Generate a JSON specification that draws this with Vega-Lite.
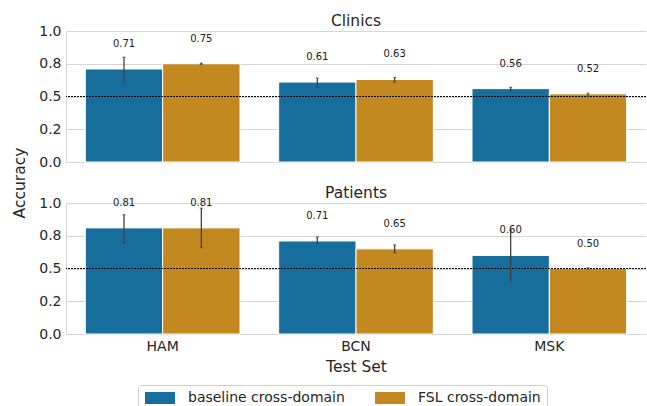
{
  "$schema": "https://vega.github.io/schema/vega-lite/v6.json",
  "autosize": {"type": "pad"},
  "padding": {"left": 12, "top": 13, "right": 0, "bottom": 0},
  "bounds": "flush",
  "spacing": 41,
  "datasets": {
    "clinics": [
      {"test": "HAM", "model": "baseline cross-domain", "acc": 0.71, "lo": 0.61, "hi": 0.80},
      {"test": "HAM", "model": "FSL cross-domain", "acc": 0.75, "lo": 0.745, "hi": 0.755},
      {"test": "BCN", "model": "baseline cross-domain", "acc": 0.61, "lo": 0.57, "hi": 0.64},
      {"test": "BCN", "model": "FSL cross-domain", "acc": 0.63, "lo": 0.61, "hi": 0.645},
      {"test": "MSK", "model": "baseline cross-domain", "acc": 0.56, "lo": 0.545, "hi": 0.57},
      {"test": "MSK", "model": "FSL cross-domain", "acc": 0.52, "lo": 0.50, "hi": 0.525}
    ],
    "patients": [
      {"test": "HAM", "model": "baseline cross-domain", "acc": 0.81, "lo": 0.70, "hi": 0.91},
      {"test": "HAM", "model": "FSL cross-domain", "acc": 0.81, "lo": 0.66, "hi": 0.96},
      {"test": "BCN", "model": "baseline cross-domain", "acc": 0.71, "lo": 0.69, "hi": 0.74},
      {"test": "BCN", "model": "FSL cross-domain", "acc": 0.65, "lo": 0.62, "hi": 0.68},
      {"test": "MSK", "model": "baseline cross-domain", "acc": 0.60, "lo": 0.40, "hi": 0.79},
      {"test": "MSK", "model": "FSL cross-domain", "acc": 0.50, "lo": 0.495, "hi": 0.505}
    ]
  },
  "config": {
    "font": "DejaVu Sans",
    "view": {"stroke": null},
    "axis": {
      "labelFont": "DejaVu Sans", "titleFont": "DejaVu Sans",
      "labelColor": "#262626", "titleColor": "#262626",
      "labelFontSize": 14, "titleFontSize": 15.5, "titleFontWeight": "normal",
      "gridColor": "#d6d6d6", "domainColor": "#d6d6d6", "ticks": false
    },
    "title": {"font": "DejaVu Sans", "fontSize": 15.5, "fontWeight": "normal", "color": "#262626", "offset": -5},
    "legend": {
      "orient": "none", "legendX": 72, "legendY": 354, "direction": "horizontal",
      "title": null, "labelFont": "DejaVu Sans", "labelFontSize": 14, "labelColor": "#262626",
      "symbolType": "M-2.5,-1H2.5V1H-2.5Z", "symbolSize": 144, "symbolStrokeWidth": 0, "symbolOffset": 9,
      "labelOffset": 21, "columnPadding": 29, "padding": 6,
      "strokeColor": "#cccccc", "fillColor": "#ffffff", "cornerRadius": 3
    }
  },
  "resolve": {"scale": {"color": "shared"}},
  "vconcat": [
    {
      "width": 580, "height": 131,
      "title": {"text": "Clinics"},
      "data": {"name": "clinics"},
      "encoding": {
        "x": {"field": "test", "type": "nominal", "sort": ["HAM", "BCN", "MSK"],
              "scale": {"paddingInner": 0.2, "paddingOuter": 0.1},
              "axis": {"labels": false, "title": null, "domain": true}},
        "xOffset": {"field": "model", "type": "nominal", "sort": ["baseline cross-domain", "FSL cross-domain"],
                    "scale": {"paddingInner": 0, "paddingOuter": 0}}
      },
      "layer": [
        {
          "mark": {"type": "bar", "stroke": "#ffffff", "strokeWidth": 1},
          "encoding": {
            "y": {"field": "acc", "type": "quantitative", "scale": {"domain": [0, 1], "nice": false},
                  "axis": {"values": [0, 0.25, 0.5, 0.75, 1], "labelExpr": "datum.value == 0.25 ? '0.2' : format(datum.value, '.1f')", "grid": true, "labelPadding": 5, "labelOverlap": false, "title": "Accuracy", "titleX": -47, "titleY": 151.5, "titleAngle": -90, "titleBaseline": "middle", "titleAlign": "center"}},
            "color": {"field": "model", "type": "nominal", "sort": ["baseline cross-domain", "FSL cross-domain"],
                      "scale": {"domain": ["baseline cross-domain", "FSL cross-domain"], "range": ["#176d9c", "#c38820"]},
                      "legend": {"encode": {"symbols": {"fill": {"value": {"expr": "datum.value === 'baseline cross-domain' ? '#0173b2' : '#de8f05'"}}}}}}
          }
        },
        {
          "mark": {"type": "rule", "color": "#000000", "strokeWidth": 1, "strokeDash": [1.5, 1.5]},
          "encoding": {"y": {"datum": 0.5, "axis": {"values": [0, 0.25, 0.5, 0.75, 1], "labelExpr": "datum.value == 0.25 ? '0.2' : format(datum.value, '.1f')", "grid": true, "labelPadding": 5, "labelOverlap": false, "title": "Accuracy", "titleX": -47, "titleY": 151.5, "titleAngle": -90, "titleBaseline": "middle", "titleAlign": "center"}}, "x": null, "xOffset": null}
        },
        {
          "mark": {"type": "rule", "color": "#424242", "strokeWidth": 1.3},
          "encoding": {"y": {"field": "lo", "type": "quantitative", "axis": {"values": [0, 0.25, 0.5, 0.75, 1], "labelExpr": "datum.value == 0.25 ? '0.2' : format(datum.value, '.1f')", "grid": true, "labelPadding": 5, "labelOverlap": false, "title": "Accuracy", "titleX": -47, "titleY": 151.5, "titleAngle": -90, "titleBaseline": "middle", "titleAlign": "center"}}, "y2": {"field": "hi"}}
        },
        {
          "mark": {"type": "tick", "color": "#424242", "size": 3, "thickness": 1.2},
          "encoding": {"y": {"field": "lo", "type": "quantitative", "axis": {"values": [0, 0.25, 0.5, 0.75, 1], "labelExpr": "datum.value == 0.25 ? '0.2' : format(datum.value, '.1f')", "grid": true, "labelPadding": 5, "labelOverlap": false, "title": "Accuracy", "titleX": -47, "titleY": 151.5, "titleAngle": -90, "titleBaseline": "middle", "titleAlign": "center"}}}
        },
        {
          "mark": {"type": "tick", "color": "#424242", "size": 3, "thickness": 1.2},
          "encoding": {"y": {"field": "hi", "type": "quantitative", "axis": {"values": [0, 0.25, 0.5, 0.75, 1], "labelExpr": "datum.value == 0.25 ? '0.2' : format(datum.value, '.1f')", "grid": true, "labelPadding": 5, "labelOverlap": false, "title": "Accuracy", "titleX": -47, "titleY": 151.5, "titleAngle": -90, "titleBaseline": "middle", "titleAlign": "center"}}}
        },
        {
          "mark": {"type": "text", "dy": -25, "baseline": "middle", "fontSize": 10, "color": "#1a1a1a", "font": "DejaVu Sans"},
          "encoding": {"y": {"field": "acc", "type": "quantitative", "axis": {"values": [0, 0.25, 0.5, 0.75, 1], "labelExpr": "datum.value == 0.25 ? '0.2' : format(datum.value, '.1f')", "grid": true, "labelPadding": 5, "labelOverlap": false, "title": "Accuracy", "titleX": -47, "titleY": 151.5, "titleAngle": -90, "titleBaseline": "middle", "titleAlign": "center"}}, "text": {"field": "acc", "type": "quantitative", "format": ".2f"}}
        }
      ]
    },
    {
      "width": 580, "height": 131,
      "title": {"text": "Patients"},
      "data": {"name": "patients"},
      "encoding": {
        "x": {"field": "test", "type": "nominal", "sort": ["HAM", "BCN", "MSK"],
              "scale": {"paddingInner": 0.2, "paddingOuter": 0.1},
              "axis": {"labelAngle": 0, "labelPadding": 5, "title": "Test Set", "titlePadding": 6, "domain": true}},
        "xOffset": {"field": "model", "type": "nominal", "sort": ["baseline cross-domain", "FSL cross-domain"],
                    "scale": {"paddingInner": 0, "paddingOuter": 0}}
      },
      "layer": [
        {
          "mark": {"type": "bar", "stroke": "#ffffff", "strokeWidth": 1},
          "encoding": {
            "y": {"field": "acc", "type": "quantitative", "scale": {"domain": [0, 1], "nice": false},
                  "axis": {"values": [0, 0.25, 0.5, 0.75, 1], "labelExpr": "datum.value == 0.25 ? '0.2' : format(datum.value, '.1f')", "grid": true, "labelPadding": 5, "labelOverlap": false, "title": null}},
            "color": {"field": "model", "type": "nominal", "sort": ["baseline cross-domain", "FSL cross-domain"],
                      "scale": {"domain": ["baseline cross-domain", "FSL cross-domain"], "range": ["#176d9c", "#c38820"]},
                      "legend": {"encode": {"symbols": {"fill": {"value": {"expr": "datum.value === 'baseline cross-domain' ? '#0173b2' : '#de8f05'"}}}}}}
          }
        },
        {
          "mark": {"type": "rule", "color": "#000000", "strokeWidth": 1, "strokeDash": [1.5, 1.5]},
          "encoding": {"y": {"datum": 0.5, "axis": {"values": [0, 0.25, 0.5, 0.75, 1], "labelExpr": "datum.value == 0.25 ? '0.2' : format(datum.value, '.1f')", "grid": true, "labelPadding": 5, "labelOverlap": false, "title": null}}, "x": null, "xOffset": null}
        },
        {
          "mark": {"type": "rule", "color": "#424242", "strokeWidth": 1.3},
          "encoding": {"y": {"field": "lo", "type": "quantitative", "axis": {"values": [0, 0.25, 0.5, 0.75, 1], "labelExpr": "datum.value == 0.25 ? '0.2' : format(datum.value, '.1f')", "grid": true, "labelPadding": 5, "labelOverlap": false, "title": null}}, "y2": {"field": "hi"}}
        },
        {
          "mark": {"type": "tick", "color": "#424242", "size": 3, "thickness": 1.2},
          "encoding": {"y": {"field": "lo", "type": "quantitative", "axis": {"values": [0, 0.25, 0.5, 0.75, 1], "labelExpr": "datum.value == 0.25 ? '0.2' : format(datum.value, '.1f')", "grid": true, "labelPadding": 5, "labelOverlap": false, "title": null}}}
        },
        {
          "mark": {"type": "tick", "color": "#424242", "size": 3, "thickness": 1.2},
          "encoding": {"y": {"field": "hi", "type": "quantitative", "axis": {"values": [0, 0.25, 0.5, 0.75, 1], "labelExpr": "datum.value == 0.25 ? '0.2' : format(datum.value, '.1f')", "grid": true, "labelPadding": 5, "labelOverlap": false, "title": null}}}
        },
        {
          "mark": {"type": "text", "dy": -25, "baseline": "middle", "fontSize": 10, "color": "#1a1a1a", "font": "DejaVu Sans"},
          "encoding": {"y": {"field": "acc", "type": "quantitative", "axis": {"values": [0, 0.25, 0.5, 0.75, 1], "labelExpr": "datum.value == 0.25 ? '0.2' : format(datum.value, '.1f')", "grid": true, "labelPadding": 5, "labelOverlap": false, "title": null}}, "text": {"field": "acc", "type": "quantitative", "format": ".2f"}}
        }
      ]
    }
  ]
}
